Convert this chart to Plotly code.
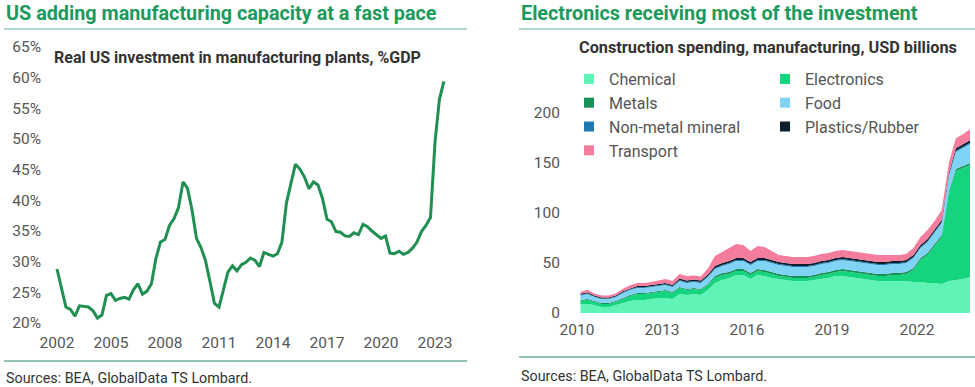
import plotly.graph_objects as go
import pandas as pd

W, H = 975, 387

# ---------------- Left chart data (quarterly, 2002Q1 - 2023Q3) ----------------
invest_pct = [
    28.8, 25.5, 22.6, 22.2, 21.1, 22.8, 22.7, 22.6, 22.0, 20.8,
    21.3, 24.5, 24.8, 23.7, 24.0, 24.2, 23.9, 25.4, 26.4, 24.7,
    25.2, 26.4, 30.5, 33.2, 33.6, 35.9, 37.0, 38.8, 43.0, 42.0,
    38.5, 33.8, 32.3, 30.2, 26.8, 23.2, 22.6, 25.7, 28.3, 29.3,
    28.5, 29.5, 29.9, 30.6, 30.2, 29.2, 31.5, 31.2, 30.9, 31.3,
    33.2, 39.6, 42.6, 45.9, 45.1, 43.8, 41.9, 43.0, 42.5, 40.3,
    36.9, 36.5, 34.9, 34.8, 34.2, 34.1, 34.7, 34.4, 36.1, 35.7,
    35.0, 34.4, 33.8, 34.2, 31.4, 31.3, 31.7, 31.2, 31.5, 32.2,
    33.2, 34.9, 35.9, 37.2, 49.5, 56.5, 59.4,
]
left_years = ["2002", "2005", "2008", "2011", "2014", "2017", "2020", "2023"]
left_yticks = [20, 25, 30, 35, 40, 45, 50, 55, 60, 65]

# ---------------- Right chart data (quarterly, 2010Q1 - 2023Q4, USD bn) ----------------
chemical = [9, 9, 8, 6, 6, 8, 10, 12, 13, 13, 14, 15, 15, 14, 19, 18,
            19, 18, 23, 30, 33, 35, 38, 38, 34, 38, 37, 35, 34, 33, 32, 32,
            32, 33, 34, 35, 37, 37, 36, 35, 34, 33, 32, 32, 32, 32, 32, 31,
            31, 30, 30, 29, 32, 33, 34, 36]
electronics = [3, 4, 3, 3, 3, 3, 4, 5, 6, 6, 6, 6, 7, 6, 6, 5,
               5, 5, 5, 5, 5, 4, 4, 4, 4, 4, 4, 4, 3, 3, 3, 3,
               3, 3, 4, 4, 4, 5, 5, 5, 5, 5, 5, 5, 6, 6, 7, 12,
               22, 28, 37, 47, 88, 109, 111, 112]
metals = [1, 1, 1, 1, 1, 1, 1, 1, 1, 1, 1, 1, 1, 1, 1, 1,
          1, 1, 1, 2, 2, 2, 2, 2, 2, 2, 2, 2, 2, 2, 2, 2,
          2, 2, 2, 2, 2, 2, 2, 2, 2, 2, 2, 2, 2, 2, 2, 2,
          2, 2, 2, 2, 2, 2, 2, 2]
food = [4.5, 5, 4, 4, 4, 4, 5, 5, 5, 5, 5, 5, 5, 5, 6, 6,
        6, 6, 7, 7, 7, 8, 8, 8, 8, 8, 9, 9, 9, 9, 9, 9,
        9, 9, 9, 9, 9, 9, 9, 9, 9, 9, 9, 9, 9, 9, 9, 10,
        10, 11, 11, 12, 15, 17, 18, 19]
non_metal = [0.7, 0.7, 0.6, 0.6, 0.6, 0.6, 0.7, 0.7, 0.7, 0.7, 0.8, 0.8, 0.8, 0.8, 0.9, 0.9,
             0.9, 0.9, 1, 1, 1, 1, 1, 1, 1, 1, 1, 1, 1, 1, 1, 1,
             1, 1, 1, 1, 1, 1, 1, 1, 1, 1, 1, 1, 1, 1, 1, 1,
             1, 1, 1, 1, 1, 1.2, 1.2, 1.2]
plastics = [1, 1, 1, 1, 1, 1, 1, 1, 1.2, 1.2, 1.2, 1.2, 1.2, 1.2, 1.5, 1.5,
            1.5, 1.5, 1.5, 2, 2, 2, 2, 2, 2, 2, 2, 2, 2, 2, 2, 2,
            2, 2, 2, 2, 2, 2, 2, 2, 2, 2, 2, 2, 2, 2, 2, 2,
            2, 2, 2, 2, 2, 2.5, 2.5, 2.5]
transport = [2, 2.5, 2, 2, 2, 2, 2.5, 3, 3, 3, 3, 3.5, 4, 4, 4.5, 4.5,
             4, 4, 6, 10, 11, 13, 14, 13, 11, 12, 11, 9, 7, 7, 7, 7,
             7, 7, 7, 7, 7, 7, 7, 7, 7, 7, 7, 7, 6, 6, 6, 7,
             8, 9, 9, 10, 10, 10, 10, 11]
right_years = ["2010", "2013", "2016", "2019", "2022"]
right_yticks = [0, 50, 100, 150, 200]

series_names = ["Chemical", "Electronics", "Metals", "Food",
                "Non-metal mineral", "Plastics/Rubber", "Transport"]
series_values = [chemical, electronics, metals, food, non_metal, plastics, transport]
series_colors = ["#5ff4b5", "#14d47e", "#16915a", "#7fd3f4",
                 "#1f78b0", "#0c1f2c", "#f47c9d"]
legend_of = {"Chemical": "legend", "Metals": "legend", "Non-metal mineral": "legend",
             "Transport": "legend", "Electronics": "legend2", "Food": "legend2",
             "Plastics/Rubber": "legend2"}

source_text = "Sources: BEA, GlobalData TS Lombard."


def fx(p):
    return p / W


def fy(p):
    return 1 - p / H


FONT = "Roboto"
TICK_COLOR = "#555555"
GREEN = "#1b9a5c"

fig = go.Figure()

# Left line
dates_l = pd.date_range("2002-01-01", periods=len(invest_pct), freq="QS")
fig.add_trace(go.Scatter(x=dates_l, y=invest_pct, mode="lines",
                         line=dict(color="#1f8f52", width=3),
                         showlegend=False, hoverinfo="x+y",
                         xaxis="x", yaxis="y"))

# Right stacked areas (mid-quarter dates)
dates_r = pd.date_range("2010-01-01", periods=len(chemical), freq="QS") + pd.Timedelta(days=45)
for name, vals, col in zip(series_names, series_values, series_colors):
    fig.add_trace(go.Scatter(x=dates_r, y=vals, mode="lines", stackgroup="one",
                             line=dict(width=0, color=col), fillcolor=col,
                             name=name, showlegend=False,
                             xaxis="x2", yaxis="y2"))

# Legend entries (square markers)
for name, col in zip(series_names, series_colors):
    fig.add_trace(go.Scatter(x=[None], y=[None], mode="markers",
                             marker=dict(symbol="square", size=10, color=col),
                             name=name, showlegend=True, legend=legend_of[name],
                             xaxis="x2", yaxis="y2"))


def yrs_to_date(y):
    yr = int(y)
    frac = y - yr
    return pd.Timestamp(f"{yr}-01-01") + pd.Timedelta(days=frac * 365.25)


# Left axes: 2002 at px 57, 18 px per year, domain px 50..457
l_start = 2002 - 7 / 18
l_end = l_start + 407 / 18
# Right axes: 2010 at px 577, 28.33 px per year, domain px 576..975
r_ppy = 85 / 3
r_start = 2010 - 1 / r_ppy
r_end = r_start + 399 / r_ppy

common_ax = dict(showgrid=False, zeroline=False, showline=False, ticks="",
                 automargin=False, tickfont=dict(size=15.5, color=TICK_COLOR))

fig.update_layout(
    template="none",
    width=W, height=H,
    margin=dict(l=0, r=0, t=0, b=0, pad=0, autoexpand=False),
    paper_bgcolor="white", plot_bgcolor="white",
    font=dict(family=FONT, color=TICK_COLOR, size=15),
    xaxis=dict(domain=[fx(50), fx(457)], type="date",
               range=[yrs_to_date(l_start), yrs_to_date(l_end)],
               tickvals=[pd.Timestamp(f"{y}-01-01") for y in left_years],
               ticktext=left_years, ticklabelstandoff=5, anchor="y", **common_ax),
    yaxis=dict(domain=[fy(326), fy(41)], range=[20 - 3 / 6.133, 65 + 6 / 6.133],
               tickvals=left_yticks, ticktext=[f"{v}%" for v in left_yticks],
               ticklabelstandoff=8, anchor="x", **common_ax),
    xaxis2=dict(domain=[fx(576), fx(975)], type="date",
                range=[yrs_to_date(r_start), yrs_to_date(r_end)],
                tickvals=[pd.Timestamp(f"{y}-01-01") for y in right_years],
                ticktext=right_years, ticklabelstandoff=5, anchor="y2", **common_ax),
    yaxis2=dict(domain=[fy(313), fy(73)], range=[0, 240],
                tickvals=right_yticks, ticktext=[str(v) for v in right_yticks],
                ticklabelstandoff=15, anchor="x2", **common_ax),
    legend=dict(x=fx(569), y=fy(62), xanchor="left", yanchor="top",
                orientation="v", traceorder="normal", itemwidth=30,
                bgcolor="rgba(0,0,0,0)", borderwidth=0,
                font=dict(size=16, color=TICK_COLOR)),
    legend2=dict(x=fx(765), y=fy(62), xanchor="left", yanchor="top",
                 orientation="v", traceorder="normal", itemwidth=30,
                 bgcolor="rgba(0,0,0,0)", borderwidth=0,
                 font=dict(size=16, color=TICK_COLOR)),
    showlegend=True,
)

annotations = [
    dict(text="<b>US adding manufacturing capacity at a fast pace</b>",
         x=fx(4), y=fy(14), xanchor="left", yanchor="middle",
         font=dict(size=19.8, color=GREEN, family=FONT)),
    dict(text="<b>Electronics receiving most of the investment</b>",
         x=fx(519), y=fy(14), xanchor="left", yanchor="middle",
         font=dict(size=19.8, color=GREEN, family=FONT)),
    dict(text="<b>Real US investment in manufacturing plants, %GDP</b>",
         x=fx(52), y=fy(57), xanchor="left", yanchor="middle",
         font=dict(size=16, color="#333333", family=FONT)),
    dict(text="<b>Construction spending, manufacturing, USD billions</b>",
         x=fx(577), y=fy(47), xanchor="left", yanchor="middle",
         font=dict(size=16.3, color="#333333", family=FONT)),
    dict(text=source_text, x=fx(4), y=fy(378), xanchor="left", yanchor="middle",
         font=dict(size=14.3, color="#333333", family=FONT)),
    dict(text=source_text, x=fx(519), y=fy(376), xanchor="left", yanchor="middle",
         font=dict(size=14.3, color="#333333", family=FONT)),
]
for a in annotations:
    a.update(xref="paper", yref="paper", showarrow=False)
fig.update_layout(annotations=annotations)

shapes = [
    dict(x0=fx(4), x1=fx(467), y0=fy(29), y1=fy(29), line=dict(color="#5fb58a", width=1.2)),
    dict(x0=fx(519), x1=fx(975), y0=fy(29), y1=fy(29), line=dict(color="#5fb58a", width=1.2)),
    dict(x0=fx(4), x1=fx(467), y0=fy(361), y1=fy(361), line=dict(color="#93c4ae", width=2)),
    dict(x0=fx(519), x1=fx(975), y0=fy(357), y1=fy(357), line=dict(color="#93c4ae", width=2)),
]
for s in shapes:
    s.update(type="line", xref="paper", yref="paper")
fig.update_layout(shapes=shapes)

fig.write_html("out.html",
               config={"displayModeBar": False},
               post_script="document.body.style.margin='0';document.body.style.overflow='hidden';")
